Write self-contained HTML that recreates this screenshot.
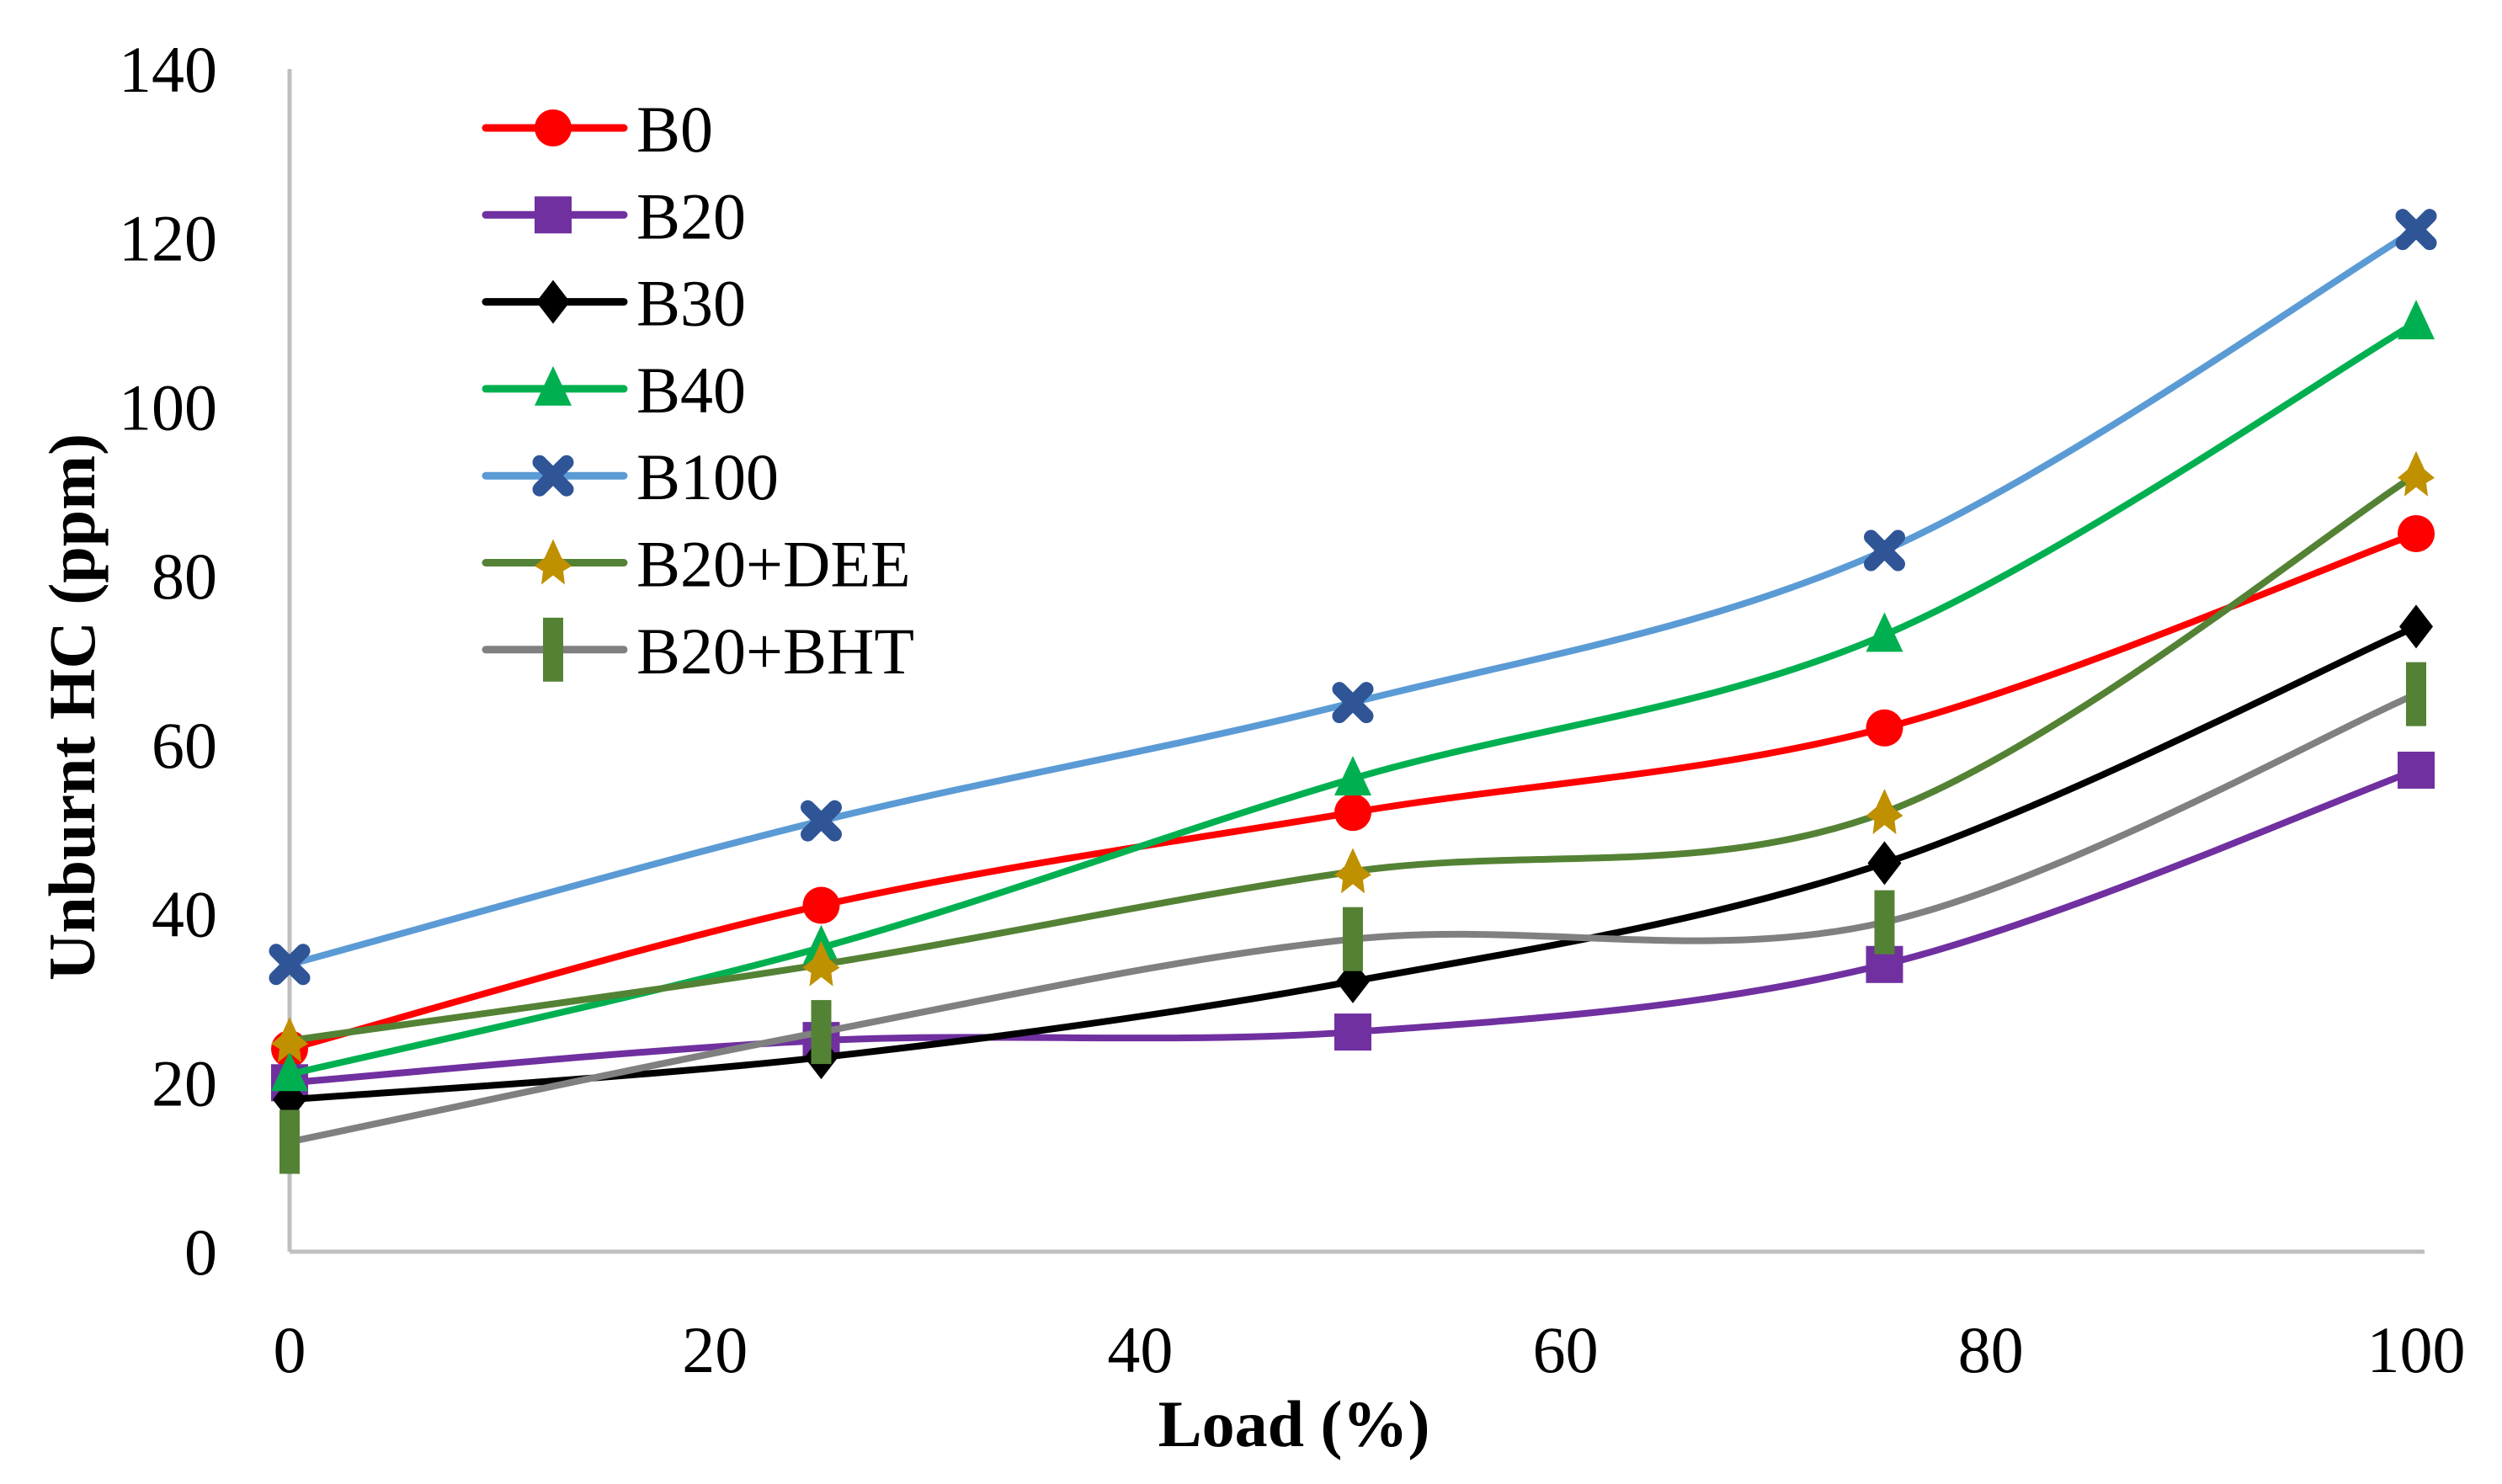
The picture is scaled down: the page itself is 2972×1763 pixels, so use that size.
<!DOCTYPE html>
<html><head><meta charset="utf-8"><style>
html,body{margin:0;padding:0;background:#fff;}
svg{display:block;}
text{font-family:"Liberation Serif",serif;}
</style></head><body>
<svg id="chart" width="2972" height="1763" viewBox="0 0 2972 1763" xmlns="http://www.w3.org/2000/svg">
<g id="axes"></g><g id="series"></g><g id="legend"></g>
<text transform="translate(112,840) rotate(-90)" text-anchor="middle" font-size="78" font-weight="bold">Unburnt  HC (ppm)</text>
<text x="1537" y="1718" text-anchor="middle" font-size="78" font-weight="bold">Load (%)</text>
</svg>
<script>
const loads=[0,25,50,75,100];
const seriesNames=["B0","B20","B30","B40","B100","B20+DEE","B20+BHT"];
const b0=[24,41,52,62,85];
const b20=[20,25,26,34,57];
const b30=[18,23,32,46,74];
const b40=[21,36,56,73,110];
const b100=[34,51,65,83,121];
const b20dee=[25,34,45,52,92];
const b20bht=[13,26,37,39,66];
const yTicks=[0,20,40,60,80,100,120,140];
const xTicks=[0,20,40,60,80,100];

const NS="http://www.w3.org/2000/svg";
const X0=344,X1=2870,Y0=1487,Y1=82;
const sx=v=>X0+(v-0)/(100-0)*(X1-X0);
const sy=v=>Y0-(v/140)*(Y0-Y1);
function el(t,a,p){const e=document.createElementNS(NS,t);for(const k in a)e.setAttribute(k,a[k]);p.appendChild(e);return e;}
const axes=document.getElementById('axes');
let l=el('line',{x1:X0,y1:Y1,x2:X0,y2:Y0,stroke:'#BFBFBF','stroke-width':5},axes);


l=el('line',{x1:X0,y1:Y0,x2:X1+10,y2:Y0,stroke:'#BFBFBF','stroke-width':5},axes);


yTicks.forEach(v=>{const t=el('text',{x:258,y:sy(v)+27,'text-anchor':'end','font-size':78},axes);t.textContent=v;

});
xTicks.forEach(v=>{const t=el('text',{x:sx(v),y:1630,'text-anchor':'middle','font-size':78},axes);t.textContent=v;

});

const styles=[
 {line:'#FF0000',mk:'circle',mc:'#FF0000'},
 {line:'#7030A0',mk:'square',mc:'#7030A0'},
 {line:'#000000',mk:'diamond',mc:'#000000'},
 {line:'#00B050',mk:'triangle',mc:'#00B050'},
 {line:'#5B9BD5',mk:'x',mc:'#2F5597'},
 {line:'#548235',mk:'star',mc:'#BF9000'},
 {line:'#808080',mk:'bar',mc:'#548235'}];
const data=[b0,b20,b30,b40,b100,b20dee,b20bht];
function smooth(pts){let d=`M${pts[0][0]},${pts[0][1]}`;
 for(let i=0;i<pts.length-1;i++){const p0=pts[i-1]||pts[i],p1=pts[i],p2=pts[i+1],p3=pts[i+2]||p2;
  const c1=[p1[0]+(p2[0]-p0[0])/6,p1[1]+(p2[1]-p0[1])/6],c2=[p2[0]-(p3[0]-p1[0])/6,p2[1]-(p3[1]-p1[1])/6];
  d+=` C${c1[0]},${c1[1]} ${c2[0]},${c2[1]} ${p2[0]},${p2[1]}`;}return d;}
function marker(type,x,y,c,g){let m;
 if(type==='circle')m=el('circle',{cx:x,cy:y,r:22,fill:c},g);
 else if(type==='square')m=el('rect',{x:x-22,y:y-22,width:44,height:44,fill:c},g);
 else if(type==='diamond')m=el('polygon',{points:`${x},${y-26} ${x+20},${y} ${x},${y+26} ${x-20},${y}`,fill:c},g);
 else if(type==='triangle')m=el('polygon',{points:`${x},${y-27} ${x+22},${y+20} ${x-22},${y+20}`,fill:c},g);
 else if(type==='x')m=el('path',{d:`M${x-16},${y-16}L${x+16},${y+16}M${x+16},${y-16}L${x-16},${y+16}`,stroke:c,'stroke-width':17,'stroke-linecap':'round'},g);
 else if(type==='star')m=el('polygon',{points:`${x},${y-28} ${x+10},${y-6} ${x+22},${y+4} ${x+12},${y+10} ${x+14},${y+26} ${x},${y+15} ${x-14},${y+26} ${x-12},${y+10} ${x-22},${y+4} ${x-10},${y-6}`,fill:c},g);
 else m=el('rect',{x:x-12,y:y-38,width:24,height:76,fill:c},g);
 return m;}
const sg=document.getElementById('series');
data.forEach((vals,i)=>{const g=el('g',{},sg);
 
 
 const pts=loads.map((x,j)=>[sx(x),sy(vals[j])]);
 const p=el('path',{d:smooth(pts),fill:'none',stroke:styles[i].line,'stroke-width':8,'stroke-linecap':'round'},g);
 
 
 pts.forEach(pt=>{const m=marker(styles[i].mk,pt[0],pt[1],styles[i].mc,g);
  
  });});
const lg=document.getElementById('legend');
seriesNames.forEach((n,i)=>{const y=152+i*103.3;const g=el('g',{},lg);
 
 
 el('line',{x1:577,y1:y,x2:741,y2:y,stroke:styles[i].line,'stroke-width':9,'stroke-linecap':'round'},g);
 marker(styles[i].mk,657,y,styles[i].mc,g);
 const t=el('text',{x:756,y:y+28,'font-size':78},g);t.textContent=n;});
</script>
</body></html>
